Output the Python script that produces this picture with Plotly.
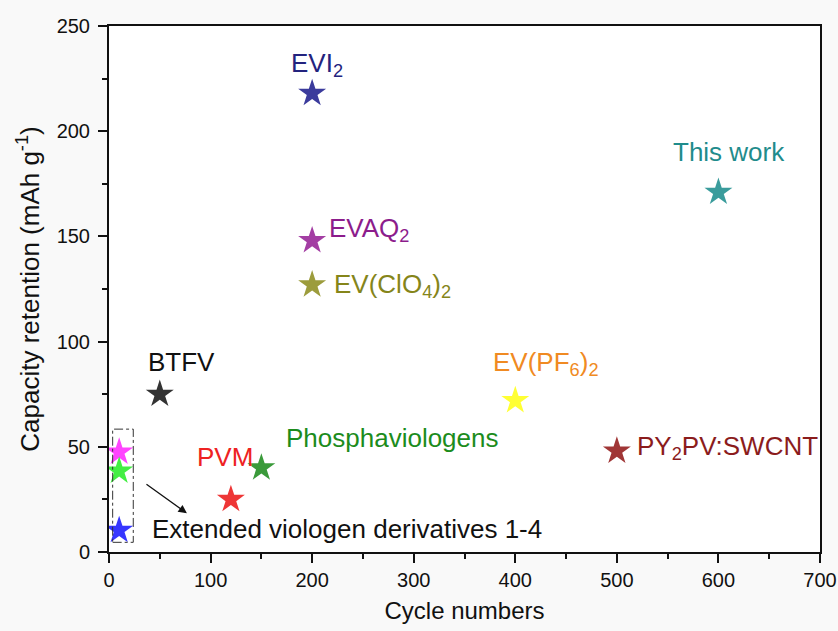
import plotly.graph_objects as go

# Cycle number and capacity retention for each material
names = ["EVI2", "EVAQ2", "EV(ClO4)2", "BTFV", "EV(PF6)2", "PY2PV:SWCNT",
         "This work", "PVM", "Phosphaviologens", "Ext-1", "Ext-2", "Ext-3"]
cycles = [200, 200, 200, 50, 400, 500, 600, 120, 150, 10, 10, 10]
capacity = [218, 148, 127, 75, 72, 48, 171, 25, 40, 47.5, 38.5, 10.3]
star_colors = ["#3b3b9c", "#a33ea3", "#9c9c3c", "#333333", "#ffff33", "#a03636",
               "#3a9c9c", "#ee3636", "#3a9a3a", "#ff44ff", "#44ee44", "#3636ff"]

# Text labels: (text, x, y, colour)
label_text = ["EVI<sub>2</sub>", "EVAQ<sub>2</sub>", "EV(ClO<sub>4</sub>)<sub>2</sub>", "BTFV",
              "EV(PF<sub>6</sub>)<sub>2</sub>", "PY<sub>2</sub>PV:SWCNT", "This work", "PVM",
              "Phosphaviologens", "Extended viologen derivatives 1-4"]
label_x = [177, 214.5, 219.5, 36.4, 375.8, 517.5, 553, 84.6, 172.2, 40.3]
label_y = [231.5, 153.5, 126.5, 90.2, 89.5, 49.8, 190, 45, 54.1, 10.8]
label_colors = ["#23237e", "#8c1c8c", "#85851a", "#111111", "#f08a22", "#8b1c1c",
                "#1f8c8c", "#ee2222", "#1c8c1c", "#111111"]

FONT = "Liberation Sans, Arial, sans-serif"

fig = go.Figure()
fig.add_trace(go.Scatter(
    x=cycles, y=capacity, mode="markers",
    marker=dict(symbol="star", size=21, color=star_colors, line=dict(width=0)),
    text=names, hoverinfo="text+x+y", showlegend=False,
))

# Dashed box grouping the extended viologen derivatives
fig.add_shape(type="rect", x0=3.6, x1=23.9, y0=4.6, y1=58.4,
              line=dict(color="#333333", width=1, dash="dashdot"))

for t, x, y, c in zip(label_text, label_x, label_y, label_colors):
    fig.add_annotation(x=x, y=y, text=t, showarrow=False, xanchor="left", yanchor="middle",
                       font=dict(family=FONT, size=26, color=c))

# Arrow pointing from the box towards its caption
fig.add_annotation(x=76.7, y=18.4, ax=35.4, ay=32.7, axref="x", ayref="y", xref="x", yref="y",
                   text="", showarrow=True, arrowhead=2, arrowsize=1.3, arrowwidth=1.3,
                   arrowcolor="#111111")

axis_common = dict(showline=True, linecolor="#111111", linewidth=2, mirror=True,
                   ticks="outside", ticklen=9, tickwidth=1.5, tickcolor="#111111",
                   showgrid=False, zeroline=False, automargin=False,
                   tickfont=dict(family=FONT, size=20, color="#111111"))

fig.update_xaxes(range=[0, 700], dtick=100, tick0=0,
                 minor=dict(dtick=50, ticks="outside", ticklen=5, tickwidth=1.5, tickcolor="#111111"),
                 title=dict(text="Cycle numbers", font=dict(family=FONT, size=24, color="#111111"),
                            standoff=12),
                 **axis_common)
fig.update_yaxes(range=[0, 250], dtick=50, tick0=0, ticklabelstandoff=4,
                 minor=dict(dtick=25, ticks="outside", ticklen=5, tickwidth=1.5, tickcolor="#111111"),
                 title=dict(text="Capacity retention (mAh g<sup>-1</sup>)",
                            font=dict(family=FONT, size=26, color="#111111"), standoff=10),
                 **axis_common)

fig.update_layout(
    width=838, height=631,
    margin=dict(l=109, r=18, t=26, b=79),
    paper_bgcolor="#f9f9f9", plot_bgcolor="#ffffff",
    font=dict(family=FONT),
)

fig.write_html("out.html")
